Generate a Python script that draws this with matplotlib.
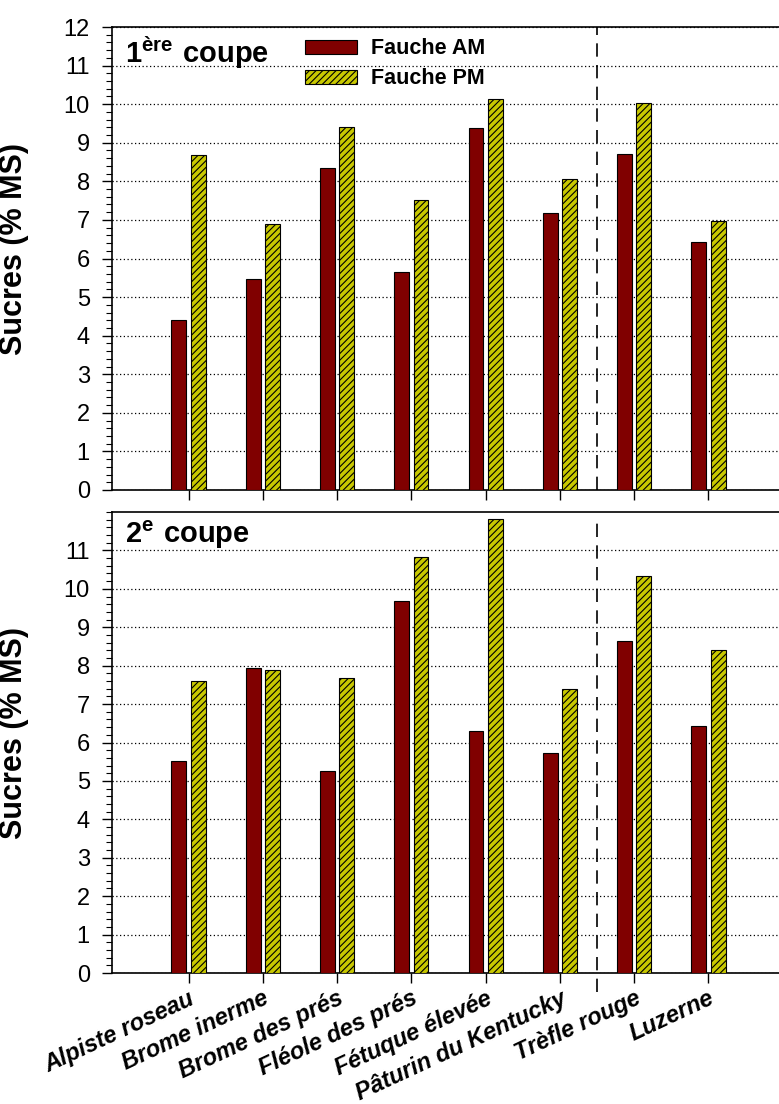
import matplotlib
matplotlib.use("Agg")
import matplotlib.pyplot as plt
from matplotlib.patches import Patch
from matplotlib.ticker import MultipleLocator, FixedLocator
import numpy as np

plt.rcParams['font.family'] = ['Liberation Sans', 'DejaVu Sans']
plt.rcParams['mathtext.fontset'] = 'custom'
plt.rcParams['mathtext.bf'] = 'Liberation Sans:bold'
plt.rcParams['mathtext.rm'] = 'Liberation Sans'
plt.rcParams['hatch.linewidth'] = 0.8

categories = ["Alpiste roseau", "Brome inerme", "Brome des prés", "Fléole des prés",
              "Fétuque élevée", "Pâturin du Kentucky", "Trèfle rouge", "Luzerne"]
coupe1_am = [4.41, 5.46, 8.35, 5.65, 9.39, 7.18, 8.71, 6.42]
coupe1_pm = [8.69, 6.90, 9.42, 7.52, 10.13, 8.06, 10.04, 6.97]
coupe2_am = [5.51, 7.93, 5.27, 9.69, 6.30, 5.73, 8.64, 6.42]
coupe2_pm = [7.60, 7.88, 7.67, 10.82, 11.81, 7.38, 10.33, 8.41]
series_labels = ["Fauche AM", "Fauche PM"]
panel_titles = [r"$\mathbf{1^{ère}\ coupe}$", r"$\mathbf{2^{e}\ coupe}$"]

AM_COLOR = "#800000"
PM_COLOR = "#c8c800"

W, H = 779, 1104
fig = plt.figure(figsize=(W / 100, H / 100), dpi=100)

left = 112 / W
right = 1.0
ax1 = fig.add_axes([left, (H - 490) / H, right - left, (490 - 27) / H])
ax2 = fig.add_axes([left, (H - 973) / H, right - left, (973 - 512) / H])

x = np.arange(len(categories))
bw = 0.2
off = 0.13

panels = [(ax1, coupe1_am, coupe1_pm, list(range(0, 13))),
          (ax2, coupe2_am, coupe2_pm, list(range(0, 12)))]

for i, (ax, am, pm, yt) in enumerate(panels):
    ax.bar(x - off, am, width=bw, color=AM_COLOR, edgecolor="black", linewidth=0.8, zorder=3)
    ax.bar(x + off, pm, width=bw, color=PM_COLOR, edgecolor="black", linewidth=0.8,
           hatch="/////", zorder=3)
    ax.set_xlim(-1.03, 7.95)
    ax.set_ylim(0, 12)
    ax.yaxis.set_major_locator(FixedLocator(yt))
    ax.yaxis.set_minor_locator(MultipleLocator(0.2))
    ax.set_yticklabels([str(v) for v in yt], fontsize=17)
    ax.set_xticks(x)
    ax.grid(axis="y", which="major", linestyle=(0, (1, 2)), color="black", linewidth=0.9, zorder=1)
    ax.tick_params(axis="y", which="major", direction="out", length=7, width=1, pad=9)
    ax.tick_params(axis="y", which="minor", direction="out", length=4, width=0.8)
    ax.tick_params(axis="x", which="major", direction="out", length=7, width=1)
    ax.spines["right"].set_visible(False)
    for s in ["left", "bottom", "top"]:
        ax.spines[s].set_linewidth(1.2)
    ax.set_ylabel("Sucres (% MS)", fontsize=22, fontweight="bold")
    ax.yaxis.set_label_coords(-0.125, 0.52)
    ax.text(0.02, 0.985, panel_titles[i], transform=ax.transAxes, fontsize=21,
            ha="left", va="top", zorder=5)
    if i == 0:
        ax.axvline(5.5, color="black", linestyle=(0, (8, 5)), linewidth=1.2, zorder=2)
        ax.set_xticklabels([])
    else:
        ax.plot([5.5, 5.5], [-0.5, 11.8], color="black", linestyle=(0, (8, 5)),
                linewidth=1.2, zorder=2, clip_on=False)
        ax.set_xticklabels(categories, rotation=25, ha="right", rotation_mode="anchor",
                           fontsize=17, fontweight="bold", style="italic")
        ax.tick_params(axis="x", pad=3)

handles = [Patch(facecolor=AM_COLOR, edgecolor="black", linewidth=0.8),
           Patch(facecolor=PM_COLOR, edgecolor="black", linewidth=0.8, hatch="/////")]
leg = fig.legend(handles, series_labels, loc="upper left",
                 bbox_to_anchor=(286 / W, (H - 19) / H), frameon=False,
                 prop={"weight": "bold", "size": 15.5}, handlelength=2.4, handleheight=0.65,
                 labelspacing=0.42, handletextpad=0.65)

fig.savefig("out.png", dpi=100)
